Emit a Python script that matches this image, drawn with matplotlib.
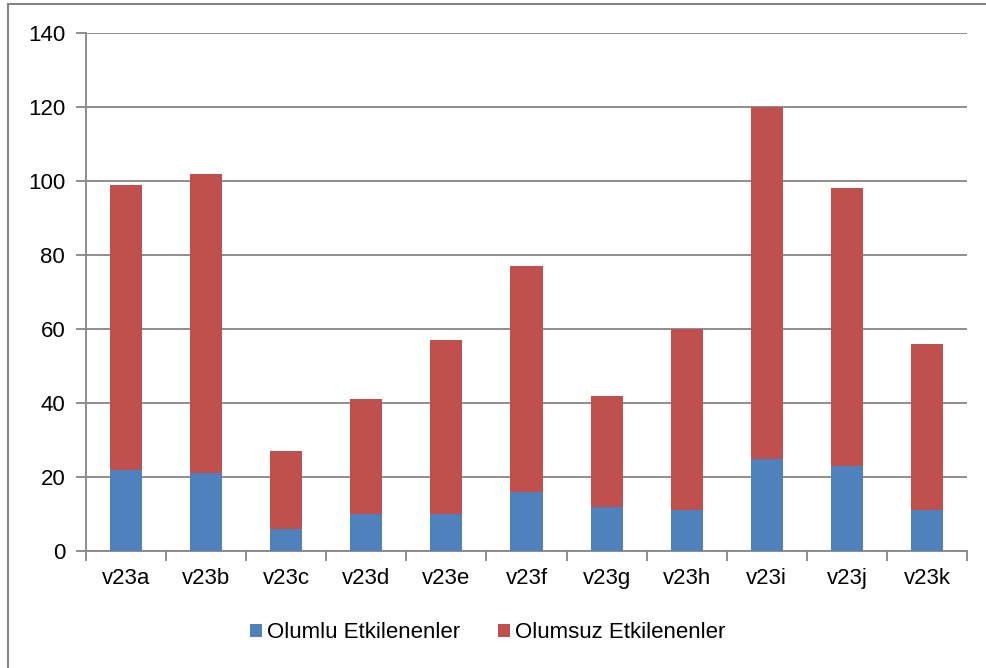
import matplotlib
matplotlib.use("Agg")
import matplotlib.pyplot as plt
from matplotlib.lines import Line2D
import numpy as np

categories = ["v23a", "v23b", "v23c", "v23d", "v23e", "v23f", "v23g", "v23h", "v23i", "v23j", "v23k"]
olumlu = [22, 21, 6, 10, 10, 16, 12, 11, 25, 23, 11]
toplam = [99, 102, 27, 41, 57, 77, 42, 60, 120, 98, 56]
olumsuz = [t - p for t, p in zip(toplam, olumlu)]
y_ticks = [0, 20, 40, 60, 80, 100, 120, 140]

plt.rcParams["font.family"] = ["Liberation Sans", "DejaVu Sans"]

W, H = 987, 668
fig = plt.figure(figsize=(W / 100, H / 100), dpi=100)
fig.patch.set_facecolor("white")

left, right, top, bottom = 86, 967, 33, 551
ax = fig.add_axes([left / W, 1 - bottom / H, (right - left) / W, (bottom - top) / H])

grey = "#868686"
fs = 16
x = np.arange(len(categories))
w = 0.4
b1 = ax.bar(x, olumlu, width=w, color="#4F81BD", label="Olumlu Etkilenenler", zorder=3)
b2 = ax.bar(x, olumsuz, width=w, bottom=olumlu, color="#C0504D",
            label="Olumsuz Etkilenenler", zorder=3)

ax.set_xlim(-0.5, len(categories) - 0.5)
ax.set_ylim(0, 140)
ax.set_yticks(y_ticks)
ax.set_xticks(x)
ax.set_xticklabels(categories)
ax.set_xticks(np.arange(len(categories) + 1) - 0.5, minor=True)

ax.yaxis.grid(True, color=grey, linewidth=1.3, zorder=0)
ax.set_axisbelow(True)
for s in ["top", "right"]:
    ax.spines[s].set_visible(False)
for s in ["left", "bottom"]:
    ax.spines[s].set_color(grey)
    ax.spines[s].set_linewidth(1.3)

ax.tick_params(axis="x", which="major", length=0, pad=12, labelsize=fs)
ax.tick_params(axis="x", which="minor", length=7, width=1.3, color=grey)
ax.tick_params(axis="y", length=7, width=1.3, color=grey, pad=8, labelsize=fs)

fig.legend(handles=[b1, b2], loc="center", bbox_to_anchor=(488 / W, 1 - 633 / H),
           ncol=2, frameon=False, fontsize=fs, handlelength=0.55, handleheight=0.55,
           handletextpad=0.22, columnspacing=1.7)

# outer chart frame
fig.add_artist(Line2D([8 / W, 8 / W], [0, 1 - 4 / H], color=grey, linewidth=1.5))
fig.add_artist(Line2D([8 / W, 1], [1 - 4 / H, 1 - 4 / H], color=grey, linewidth=1.5))

fig.savefig("out.png", dpi=100)
